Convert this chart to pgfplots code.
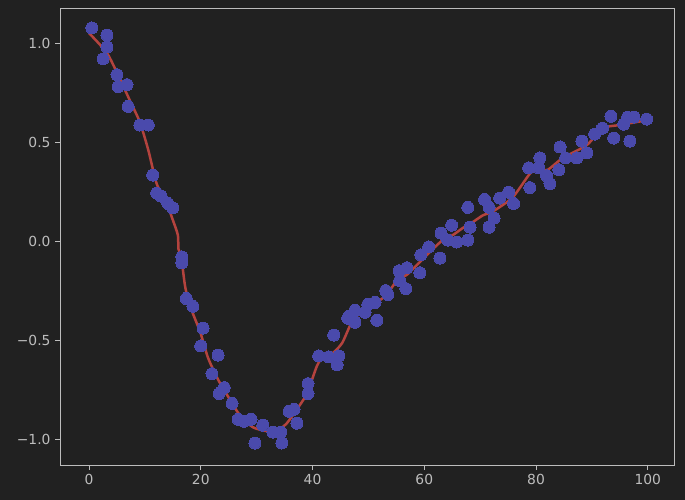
\documentclass[border=0pt]{standalone}
\usepackage{pgfplots}
\pgfplotsset{compat=1.18}
\usepackage{fontspec}
\setmainfont{DejaVu Sans}
\definecolor{bg}{HTML}{212121}
\definecolor{fg}{HTML}{BDBDBD}
\definecolor{dot}{HTML}{4A4AAC}
\definecolor{fit}{HTML}{B4433E}
\begin{document}
\begin{tikzpicture}
\fill[bg] (0,0) rectangle (685bp,500bp);
\useasboundingbox (0,0) rectangle (685bp,500bp);
\begin{axis}[
  at={(60bp,35bp)}, anchor=south west,
  scale only axis, width=614bp, height=457bp,
  xmin=-5.2, xmax=104.7, ymin=-1.131, ymax=1.177,
  axis line style={fg, line width=0.9bp},
  xtick={0,20,40,60,80,100},
  ytick={-1,-0.5,0,0.5,1},
  yticklabels={−1.0,−0.5,0.0,0.5,1.0},
  xticklabels={0,20,40,60,80,100},
  tick style={fg, line width=0.9bp},
  tick align=outside, tick pos=left,
  major tick length=5bp,
  ticklabel style={font=\fontsize{13.9}{16}\selectfont, text=fg},
  xticklabel style={yshift=-1bp},
  yticklabel style={xshift=-1bp},
]
\addplot[dot, only marks, mark=*, mark size=6bp, mark options={draw=dot, fill=dot, line width=0pt}] coordinates {
(0.5,1.076) (3.2,1.04) (3.2,0.98) (2.5,0.92) (5.0,0.84) (5.2,0.78) (6.8,0.79)
(7.0,0.68) (9.1,0.586) (10.6,0.586) (11.4,0.333) (12.1,0.242) (12.9,0.227)
(14.1,0.19) (15.0,0.167)
(16.6,-0.08) (16.6,-0.11) (17.4,-0.29) (18.6,-0.33) (20.4,-0.44) (20.0,-0.53)
(23.1,-0.576) (22.0,-0.67) (24.2,-0.74) (23.3,-0.77) (25.6,-0.82) (26.7,-0.90)
(27.7,-0.91) (29.0,-0.90) (31.1,-0.93) (29.7,-1.02) (32.9,-0.965) (34.3,-0.965)
(34.5,-1.02) (35.8,-0.86) (36.7,-0.85) (37.2,-0.92) (39.2,-0.72) (39.2,-0.77)
(41.1,-0.58) (42.9,-0.585) (43.8,-0.475) (44.7,-0.58) (44.4,-0.625) (46.3,-0.39)
(46.5,-0.38) (47.6,-0.35) (47.6,-0.41) (49.4,-0.36) (49.9,-0.32) (51.2,-0.31)
(51.5,-0.40) (53.1,-0.25) (53.5,-0.27) (55.5,-0.15) (56.9,-0.135) (56.7,-0.24)
(55.6,-0.20) (59.2,-0.16) (59.4,-0.07) (60.8,-0.03) (62.8,-0.086) (63.0,0.04)
(64.9,0.08) (64.2,0.005) (65.8,-0.005) (67.8,0.005) (68.2,0.07) (67.8,0.17)
(70.8,0.21) (71.6,0.17) (72.5,0.116) (71.6,0.07) (73.5,0.217) (75.1,0.247)
(76.0,0.19) (78.9,0.27) (78.7,0.37) (80.7,0.42) (80.5,0.37) (81.9,0.33)
(82.5,0.29) (84.1,0.36) (84.3,0.475) (85.3,0.42) (87.3,0.42) (88.2,0.505)
(89.1,0.445) (90.5,0.54) (91.9,0.57) (93.9,0.52) (93.4,0.63) (95.7,0.59)
(96.4,0.626) (97.5,0.626) (96.8,0.505) (99.8,0.616)
};
\addplot[fit, line width=2.5bp, smooth, tension=0.4, no marks] coordinates {
(0,1.05) (3.2,0.95) (5.5,0.82) (7.3,0.71) (9.1,0.60) (10.6,0.46) (12.1,0.29)
(13.9,0.19) (15.0,0.106) (15.9,0.03) (16.0,-0.04) (16.5,-0.08) (17.2,-0.23) (18.1,-0.33)
(19.9,-0.46) (21.3,-0.59) (23.1,-0.70) (25.2,-0.80) (27,-0.88) (29.3,-0.94)
(31.8,-0.96) (33.8,-0.955) (35.4,-0.92) (37.2,-0.85) (39,-0.77) (40.8,-0.63)
(41.9,-0.585) (43.6,-0.566) (45.3,-0.515) (47,-0.41) (48.5,-0.365) (51.5,-0.31)
(53.3,-0.27) (55.1,-0.20) (56.9,-0.17) (58.7,-0.12) (61,-0.055) (63.3,0.005)
(65.1,0.03) (66.9,0.066) (68.7,0.096) (70.5,0.13) (72.3,0.15) (75.8,0.22)
(78.9,0.34) (80.3,0.36) (82.1,0.36) (84.8,0.42) (89.1,0.485) (91.9,0.57)
(95,0.586) (99.8,0.61)
};
\end{axis}
\end{tikzpicture}
\end{document}
